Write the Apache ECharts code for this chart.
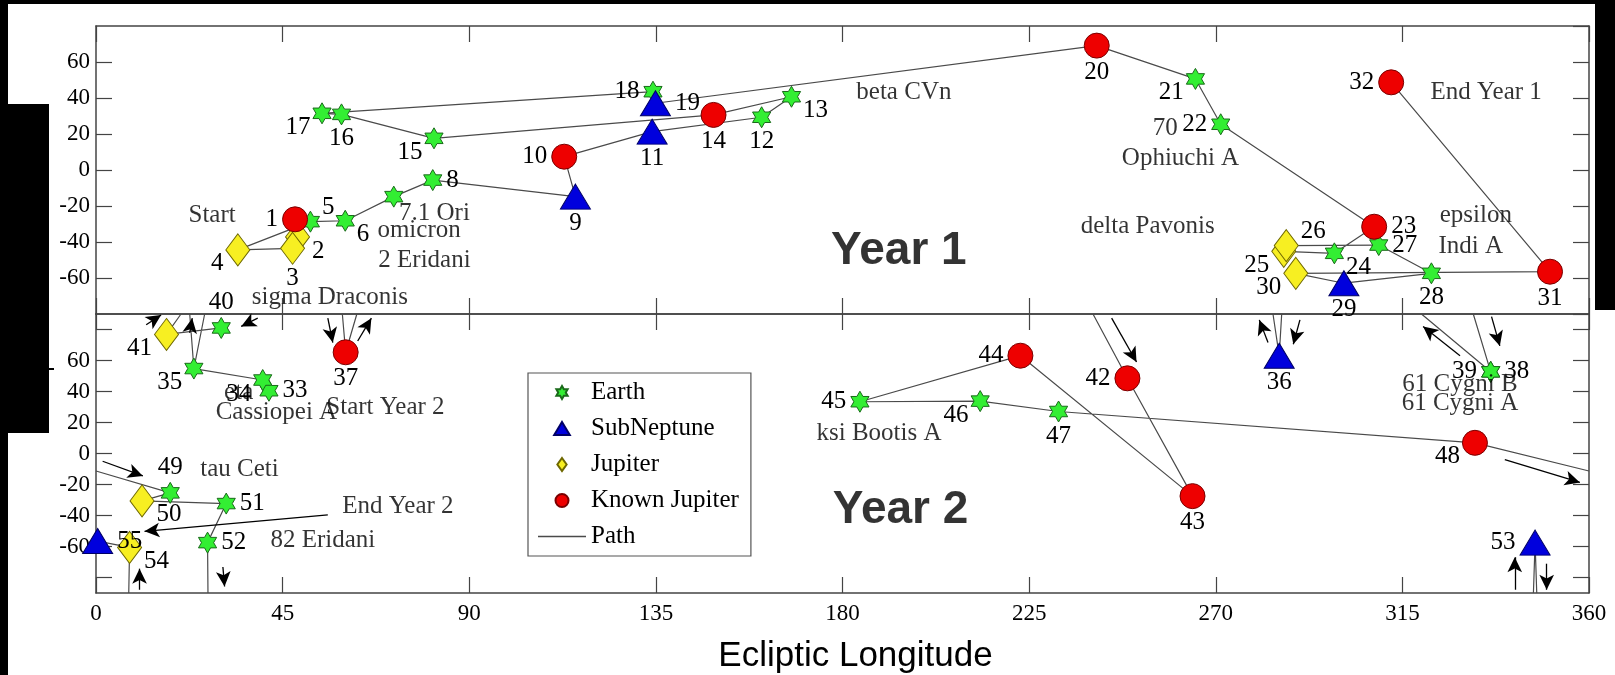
<!DOCTYPE html>
<html>
<head>
<meta charset="utf-8">
<script src="https://cdn.jsdelivr.net/npm/echarts@6/dist/echarts.min.js"></script>
<style>
  html, body { margin: 0; padding: 0; background: #fff; }
  #chart { width: 1615px; height: 675px; }
</style>
</head>
<body>
<div id="chart"></div>
<script>
// ---- Year 1 targets: number, ecliptic longitude, latitude, planet type ----
// E = Earth, S = SubNeptune, J = Jupiter, K = Known Jupiter
const y1Ids = [1, 2, 3, 4, 5, 6, 7, 8, 9, 10, 11, 12, 13, 14, 15, 16, 17, 18, 19, 20, 21, 22, 23, 24, 25, 26, 27, 28, 29, 30, 31, 32]
const y1Lon = [48.0, 48.6, 47.4, 34.2, 51.7, 60.1, 71.8, 81.2, 115.6, 112.9, 134.1, 160.5, 167.7, 148.9, 81.5, 59.2,
  54.5, 134.3, 134.9, 241.3, 265.1, 271.2, 308.2, 298.6, 286.4, 287.0, 309.3, 322.0, 300.9, 289.3, 350.6, 312.3]
const y1Lat = [-27.4, -37.2, -43.5, -44.4, -28.7, -28.2, -14.8, -5.6, -14.8, 7.4, 21.3, 29.3, 40.7, 30.6, 17.6, 30.9,
  31.5, 43.5, 37.1, 69.1, 50.6, 25.4, -31.5, -46.3, -45.2, -42.0, -41.7, -57.4, -62.9, -57.4, -56.5, 48.7]
const y1Type = ['K', 'J', 'J', 'J', 'E', 'E', 'E', 'E', 'S', 'K', 'S', 'E', 'E', 'K', 'E', 'E',
  'E', 'E', 'S', 'K', 'E', 'E', 'K', 'E', 'J', 'J', 'E', 'E', 'S', 'J', 'K', 'K']

// ---- Year 2 targets ----
const y2Ids = [33, 34, 35, 36, 37, 38, 39, 40, 41, 42, 43, 44, 45, 46, 47, 48, 49, 50, 51, 52, 53, 54, 55]
const y2Lon = [41.7, 40.2, 23.6, 285.3, 60.2, 336.3, 336.3, 30.2, 17.0, 248.7, 264.4, 222.9, 184.2, 213.2, 232.1,
  332.5, 17.9, 11.1, 31.4, 26.9, 347.0, 8.1, 0.4]
const y2Lat = [40.5, 47.4, 54.8, 63.1, 65.3, 52.7, 52.7, 81.0, 76.8, 48.5, -27.5, 63.1, 33.4, 33.8, 27.1,
  6.9, -25.4, -30.6, -32.3, -57.5, -57.5, -60.6, -56.5]
const y2Type = ['E', 'E', 'E', 'S', 'K', 'E', 'E', 'E', 'J', 'K', 'K', 'K', 'E', 'E', 'E',
  'K', 'E', 'J', 'E', 'E', 'S', 'J', 'S']

// path pieces: target numbers, plus [lon, lat] where the path leaves / re-enters the panel
const y1Path = [[1, 2, 3, 4, 5, 6, 7, 8, 9, 10, 11, 12, 13, 14, 15, 16, 17, 18, 19, 20, 21, 22, 23, 24, 25, 26,
  27, 28, 29, 30, 31, 32]]
const y2Path = [
  [33, 34, 35, [22.6, 90]],
  [[26.2, 90], 35],
  [[283.8, 90], 36, [285.9, 90]],
  [[59.4, 90], 37, [62.9, 90]],
  [[319.6, 90], 38, 39, [332.1, 90]],
  [40, 41, [20.5, 90]],
  [[240.4, 90], 42, 43, 44, 45, 46, 47, 48, [360, -11.3]],
  [[0, -11.3], 49, 50, 51, 52, [27.0, -90]],
  [[346.6, -90], 53, [347.4, -90]],
  [[7.9, -90], 54, 55],
]

// direction arrows on year 2: [lon1, lat1, lon2, lat2], head at the second end
const y2Arrows = [
  [12.1, 83.1, 15.7, 89.4],
  [39.0, 87.3, 35.0, 82.0],
  [22.6, 77.8, 23.2, 87.3],
  [55.9, 87.3, 57.1, 71.6],
  [63.1, 72.6, 66.4, 87.3],
  [282.6, 71.6, 280.5, 86.2],
  [290.3, 86.2, 288.7, 70.5],
  [328.9, 63.1, 320.0, 82.0],
  [336.5, 88.3, 338.5, 69.4],
  [244.9, 87.3, 250.9, 59.0],
  [339.7, -4.0, 357.8, -18.7],
  [1.6, -5.0, 11.3, -14.5],
  [30.6, -73.2, 31.0, -85.8],
  [342.1, -87.9, 342.1, -66.9],
  [349.8, -71.1, 349.8, -87.9],
  [10.5, -87.9, 10.5, -74.3],
  [55.9, -39.6, 11.7, -50.2],
]

// star names and notes
const y1NoteText = ['Start', '7.1 Ori', 'omicron', '2 Eridani', 'sigma Draconis', 'beta CVn', 'delta Pavonis',
  '70', 'Ophiuchi A', 'End Year 1', 'epsilon', 'Indi A']
const y1NoteLon = [28.0, 81.6, 77.9, 79.2, 56.4, 194.8, 253.6, 257.8, 261.5, 335.2, 332.7, 331.5]
const y1NoteLat = [-25.0, -24.4, -33.3, -50.0, -70.9, 42.9, -31.5, 23.2, 6.5, 42.9, -25.0, -42.6]
const y2NoteText = ['eta', 'Cassiopei A', 'Start Year 2', 'tau Ceti', 'End Year 2', '82 Eridani', 'ksi Bootis A',
  '61 Cygni B', '61 Cygni A']
const y2NoteLon = [34.4, 43.5, 69.8, 34.6, 72.8, 54.7, 188.8, 328.9, 328.9]
const y2NoteLat = [39.5, 26.4, 29.6, -10.3, -34.4, -56.0, 12.8, 44.7, 32.1]

// where each number sits around its marker (x = no separate label)
const y1LabelDir = ['w', 'se', 's', 'sw', 'ne', 'se', 'x', 'e', 's', 'w', 's', 's', 'se', 's', 'sw', 's',
  'sw', 'w', 'e', 's', 'sw', 'w', 'e', 'se', 'sw', 'ne', 'e', 's', 's', 'sw', 's', 'w']
const y2LabelDir = ['e', 'sw', 'sw', 's', 's', 'e', 'w', 'n', 'sw', 'w', 's', 'w', 'w', 'sw', 's',
  'sw', 'n', 'se', 'e', 'e', 'w', 'se', 'e']

const serif = "'Liberation Serif', 'Times New Roman', serif"
const sans = "'Liberation Sans', Arial, sans-serif"
const starPath = 'path://M10,0L12.887,5L18.66,5L15.774,10L18.66,15L12.887,15L10,20L7.113,15L1.34,15L4.226,10L1.34,5L7.113,5Z'

const typeInfo = {
  E: { name: 'Earth', symbol: starPath, size: 21, color: '#33ee33', border: '#1a6a1a' },
  S: { name: 'SubNeptune', symbol: 'triangle', size: [30, 25], color: '#0000dd', border: '#000066' },
  J: { name: 'Jupiter', symbol: 'diamond', size: [24, 32], color: '#f7ef22', border: '#6e6800' },
  K: { name: 'Known Jupiter', symbol: 'circle', size: 25, color: '#ee0000', border: '#7a0000' },
}

const dirLabel = {
  n: { position: 'top', distance: 2 },
  s: { position: 'bottom', distance: 1 },
  e: { position: 'right', distance: 4 },
  w: { position: 'left', distance: 4 },
  ne: { position: 'right', distance: 2, offset: [0, -14] },
  nw: { position: 'left', distance: 2, offset: [0, -14] },
  se: { position: 'right', distance: 2, offset: [0, 14] },
  sw: { position: 'left', distance: 2, offset: [0, 14] },
  x: { show: false },
}

function pointSeries(panel, ids, lon, lat, type, dirs) {
  return Object.keys(typeInfo).map((t) => {
    const info = typeInfo[t]
    const data = []
    ids.forEach((id, i) => {
      if (type[i] !== t) return
      data.push({ name: String(id), value: [lon[i], lat[i]], label: dirLabel[dirs[i]] })
    })
    return {
      type: 'scatter',
      name: info.name,
      xAxisIndex: panel * 2,
      yAxisIndex: panel * 2,
      symbol: info.symbol,
      symbolSize: info.size,
      symbolKeepAspect: true,
      itemStyle: { color: info.color, borderColor: info.border, borderWidth: 1, opacity: 1 },
      label: { show: true, formatter: '{b}', color: '#000', fontFamily: serif, fontSize: 25 },
      z: 5,
      silent: true,
      data,
    }
  })
}

function pathSeries(panel, pieces, ids, lon, lat, arrows) {
  const pos = {}
  ids.forEach((id, i) => (pos[id] = [lon[i], lat[i]]))
  const data = []
  pieces.forEach((piece, k) => {
    if (k > 0) data.push(['-', '-'])
    piece.forEach((p) => data.push(Array.isArray(p) ? p : pos[p]))
  })
  return {
    type: 'line',
    name: 'Path',
    xAxisIndex: panel * 2,
    yAxisIndex: panel * 2,
    symbol: 'none',
    connectNulls: false,
    lineStyle: { color: '#4a4a4a', width: 1.2 },
    itemStyle: { color: '#4a4a4a' },
    z: 3,
    silent: true,
    data,
    markLine: {
      silent: true,
      symbol: ['none', 'arrow'],
      symbolSize: [11, 15],
      label: { show: false },
      lineStyle: { color: '#000', width: 1.3, type: 'solid' },
      data: arrows.map((a) => [{ coord: [a[0], a[1]] }, { coord: [a[2], a[3]] }]),
    },
  }
}

function noteSeries(panel, text, lon, lat, big) {
  const data = text.map((t, i) => ({ name: t, value: [lon[i], lat[i]] }))
  data.push(big)
  return {
    type: 'scatter',
    name: 'notes',
    xAxisIndex: panel * 2,
    yAxisIndex: panel * 2,
    symbolSize: 0,
    silent: true,
    label: {
      show: true, position: 'inside', formatter: '{b}', color: '#000',
      fontFamily: serif, fontSize: 25,
    },
    z: 6,
    data,
  }
}

const yearLabel = { color: '#000', fontFamily: sans, fontWeight: 'bold', fontSize: 46 }
const frame = { show: true, onZero: false, lineStyle: { color: '#444', width: 1.5 } }
const tick = { show: true, inside: true, length: 16, lineStyle: { color: '#444', width: 1.2 } }
const tickLabel = { color: '#000', fontFamily: serif, fontSize: 23 }

function xAxis(grid, position, labels) {
  const ax = {
    type: 'value', gridIndex: grid, position, min: 0, max: 360, interval: 45,
    axisLine: frame, axisTick: tick, splitLine: { show: false },
    axisLabel: labels ? Object.assign({ margin: 9 }, tickLabel) : { show: false },
  }
  if (labels) {
    ax.name = 'Ecliptic Longitude'
    ax.nameLocation = 'middle'
    ax.nameGap = 46
    ax.nameTextStyle = { color: '#000', fontFamily: sans, fontSize: 35, padding: [0, 0, 0, 26] }
  }
  return ax
}

const y2Ticks = [-80, -60, -40, -20, 0, 20, 40, 60, 80]
const y2TickLabels = [-60, -40, -20, 0, 20, 40, 60]

const chart = echarts.init(document.getElementById('chart'), null, { renderer: 'canvas' })
chart.setOption({
  animation: false,
  backgroundColor: '#fff',
  grid: [
    { left: 96, right: 26, top: 26, height: 288 },
    { left: 96, right: 26, top: 314, height: 286 },
  ],
  xAxis: [xAxis(0, 'bottom', false), xAxis(0, 'top', false), xAxis(1, 'bottom', true), xAxis(1, 'top', false)],
  yAxis: [
    {
      type: 'value', gridIndex: 0, position: 'left', min: -80, max: 80, interval: 20,
      axisLine: frame, axisTick: tick, splitLine: { show: false },
      axisLabel: Object.assign({ margin: 6, showMinLabel: false, showMaxLabel: false }, tickLabel),
    },
    {
      type: 'value', gridIndex: 0, position: 'right', min: -80, max: 80, interval: 20,
      axisLine: frame, axisTick: tick, splitLine: { show: false }, axisLabel: { show: false },
    },
    {
      type: 'value', gridIndex: 1, position: 'left', min: -90, max: 90,
      axisLine: frame, axisTick: Object.assign({ customValues: y2Ticks }, tick), splitLine: { show: false },
      axisLabel: Object.assign({ margin: 6, customValues: y2TickLabels }, tickLabel),
    },
    {
      type: 'value', gridIndex: 1, position: 'right', min: -90, max: 90,
      axisLine: frame, axisTick: Object.assign({ customValues: y2Ticks }, tick), splitLine: { show: false },
      axisLabel: { show: false },
    },
  ],
  legend: {
    data: [
      { name: 'Earth', icon: starPath },
      { name: 'SubNeptune', icon: 'path://M6,0L12,10L0,10Z' },
      { name: 'Jupiter', icon: 'path://M5,0L10,7L5,14L0,7Z' },
      { name: 'Known Jupiter', icon: 'circle' },
      { name: 'Path', icon: 'path://M0,0L48,0L48,1.3L0,1.3Z' },
    ],
    orient: 'vertical',
    left: 528,
    top: 373,
    padding: [7, 12, 7, 10],
    itemWidth: 48,
    itemHeight: 13,
    itemGap: 11,
    symbolKeepAspect: true,
    selectedMode: false,
    backgroundColor: '#fff',
    borderColor: '#555',
    borderWidth: 1.2,
    textStyle: { color: '#000', fontFamily: serif, fontSize: 25, lineHeight: 24 },
  },
  graphic: [
    { type: 'rect', z: 100, shape: { x: 0, y: 0, width: 8, height: 675 }, style: { fill: '#000' } },
    { type: 'rect', z: 100, shape: { x: 0, y: 0, width: 1615, height: 4 }, style: { fill: '#000' } },
    { type: 'rect', z: 100, shape: { x: 1595, y: 0, width: 20, height: 310 }, style: { fill: '#000' } },
    { type: 'rect', z: 100, shape: { x: 8, y: 104, width: 41, height: 329 }, style: { fill: '#000' } },
    { type: 'rect', z: 100, shape: { x: 49, y: 368, width: 5, height: 2 }, style: { fill: '#000' } },
  ],
  series: [
    pathSeries(0, y1Path, y1Ids, y1Lon, y1Lat, []),
    pathSeries(1, y2Path, y2Ids, y2Lon, y2Lat, y2Arrows),
    ...pointSeries(0, y1Ids, y1Lon, y1Lat, y1Type, y1LabelDir),
    ...pointSeries(1, y2Ids, y2Lon, y2Lat, y2Type, y2LabelDir),
    noteSeries(0, y1NoteText, y1NoteLon, y1NoteLat, { name: 'Year 1', value: [193.6, -45.0], label: yearLabel }),
    noteSeries(1, y2NoteText, y2NoteLon, y2NoteLat, { name: 'Year 2', value: [194.0, -36.5], label: yearLabel }),
  ],
})
</script>
</body>
</html>
